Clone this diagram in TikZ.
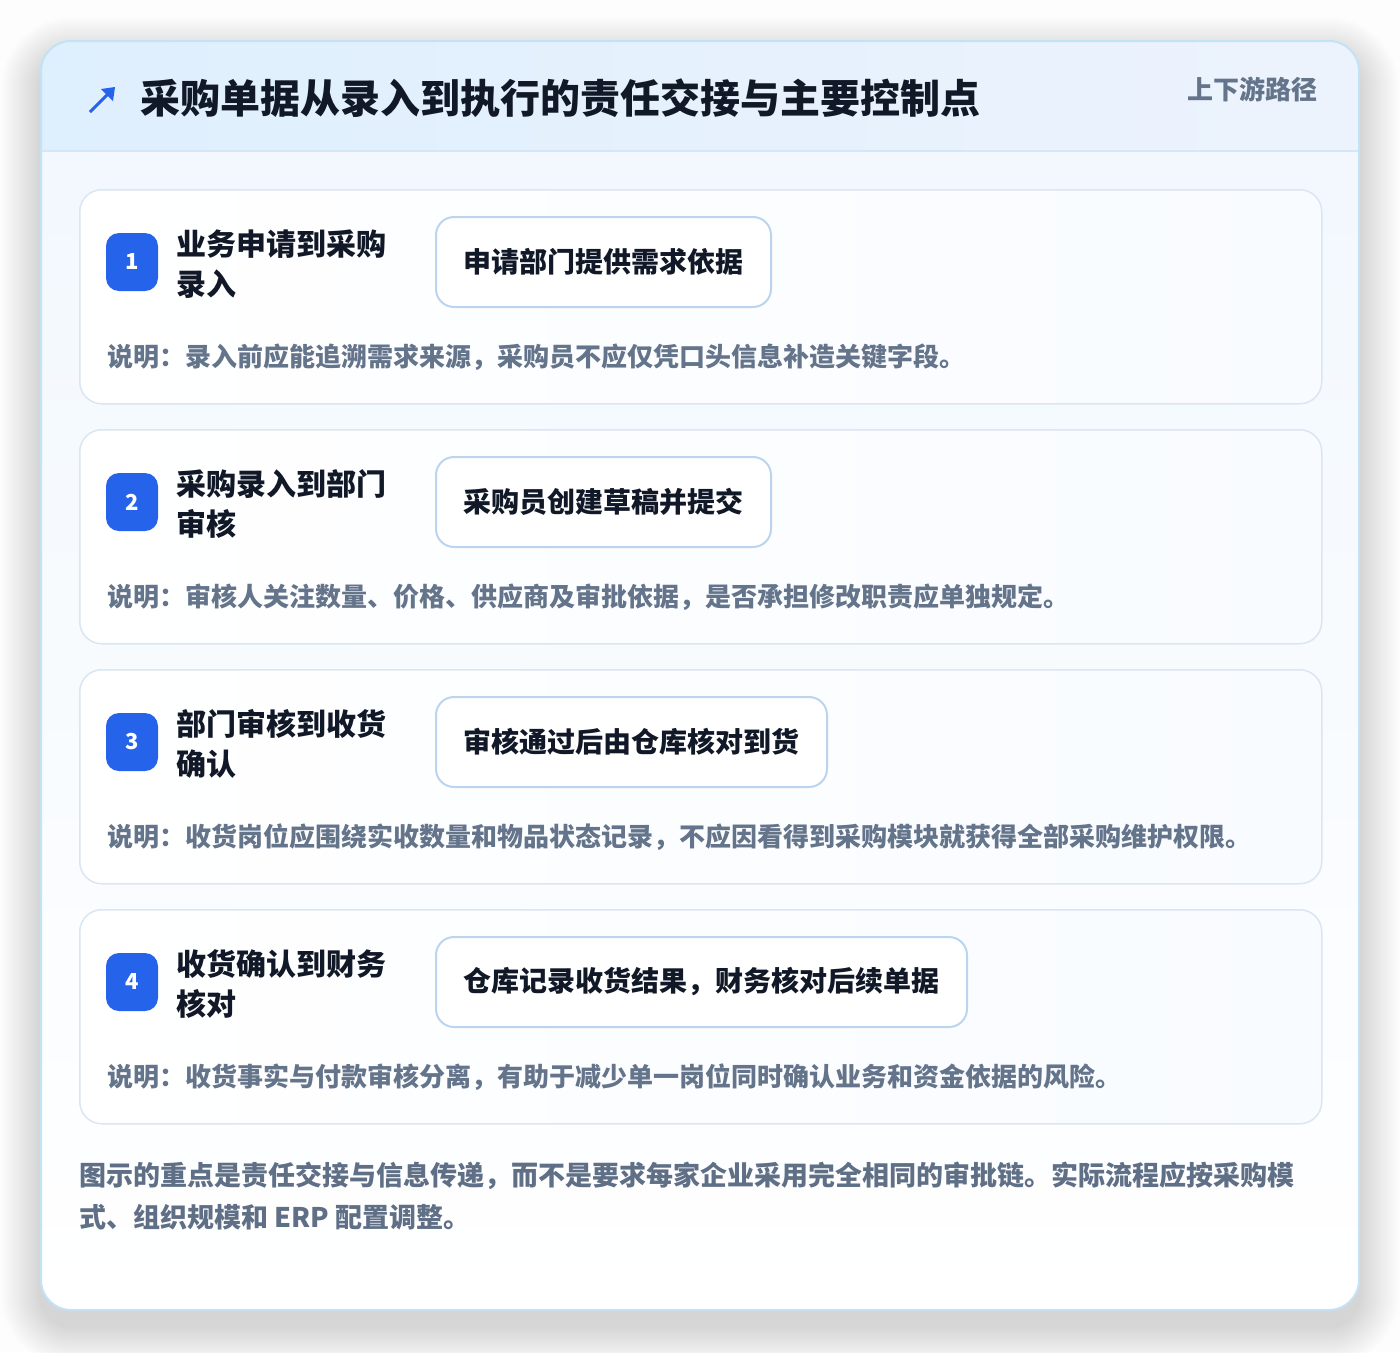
\documentclass[tikz,border=0pt]{standalone}
\usepackage{fontspec}
\usetikzlibrary{calc}
\newfontfamily\cjk{Noto Sans CJK SC}
\definecolor{pagebg}{HTML}{FDFDFD}
\definecolor{cardborder}{HTML}{C3E2F6}
\definecolor{headl}{HTML}{DEEFFD}
\definecolor{headr}{HTML}{EDF3FD}
\definecolor{headline}{HTML}{D3E7F8}
\definecolor{bodytop}{HTML}{F2F8FE}
\definecolor{stepborder}{HTML}{DAE6F2}
\definecolor{stepright}{HTML}{F8FBFF}
\definecolor{boxborder}{HTML}{BCD5EE}
\definecolor{accent}{HTML}{2563EB}
\definecolor{ink}{HTML}{111827}
\definecolor{muted}{HTML}{64748B}
\definecolor{footc}{HTML}{5F6F86}
\pgfdeclarelayer{shadowlayer}
\pgfsetlayers{shadowlayer,main}
\tikzset{
  stepcardbox/.style={draw=stepborder, line width=1.5pt, rounded corners=22pt,
    left color=white, right color=stepright, minimum width=1242pt, minimum height=214pt,
    anchor=north west, inner sep=0pt},
  badge/.style={fill=accent, rounded corners=13pt, minimum width=52pt, minimum height=58pt,
    inner sep=0pt, text=white, font=\cjk\bfseries\fontsize{22}{22}\selectfont},
  steptitle/.style={anchor=west, inner sep=0pt, align=left, text=ink,
    font=\cjk\bfseries\fontsize{30}{40}\selectfont},
  actionbox/.style={anchor=west, draw=boxborder, line width=2pt, rounded corners=18pt,
    fill=white, minimum height=90pt, inner xsep=27.5pt, inner ysep=0pt, text=ink,
    font=\cjk\bfseries\fontsize{28}{28}\selectfont},
  desctext/.style={anchor=west, inner sep=0pt, text=muted,
    font=\cjk\bfseries\fontsize{26}{26}\selectfont},
}
\newcommand\stepcard[6]{%
  \node[stepcardbox] (card#2) at (79,#1) {};
  \node[badge] (badge#2) at (132,{#1+73}) {#2};
  \node[steptitle] (stitle#2) at (176,{#1+75}) {#3\\#4};
  \node[actionbox] (action#2) at (435,{#1+73}) {#5};
  \begin{pgfonlayer}{shadowlayer}
    \foreach \j [evaluate=\j as \rr using 18+\j] in {1,...,12}
      \fill[black, opacity=0.007, rounded corners=\rr pt]
        ($(action#2.north west)+(-\j,{-\j+8})$) rectangle ($(action#2.south east)+(\j,{\j+8})$);
  \end{pgfonlayer}
  \node[desctext] (desc#2) at (107,{#1+168}) {#6};
}
\begin{document}
\begin{tikzpicture}[x=1pt,y=-1pt]
\useasboundingbox (0,0) rectangle (1400,1352);
\fill[pagebg] (0,0) rectangle (1400,1352);
\foreach \i [evaluate=\i as \rr using 30+\i] in {1,...,40}
  \fill[black, opacity=0.0025, rounded corners=\rr pt] (41-\i,{41-\i+16}) rectangle (1359+\i,{1310+\i+16});
\path[fill=white, rounded corners=30pt] (41,41) rectangle (1359,1310);
\begin{scope}
  \clip[rounded corners=30pt] (41,41) rectangle (1359,1310);
  \shade[top color=bodytop, bottom color=white] (41,151) rectangle (1359,1310);
  \shade[left color=headl, right color=headr] (41,41) rectangle (1359,151);
  \draw[headline, line width=1.5pt] (41,151) -- (1359,151);
\end{scope}
\draw[cardborder, line width=2pt, rounded corners=30pt] (41,41) rectangle (1359,1310);

\coordinate (iconA) at (90,112);
\coordinate (iconB) at (115,87);
\draw[accent, line width=3pt] (iconA) -- ($(iconB)+(-6,6)$);
\fill[accent] (iconB) -- ++(-14,2) -- ++(12,12) -- cycle;
\node[anchor=west, inner sep=0pt, text=ink, font=\cjk\bfseries\fontsize{40}{40}\selectfont] (title) at (140,98) {采购单据从录入到执行的责任交接与主要控制点};
\node[anchor=east, inner sep=0pt, text=muted, font=\cjk\bfseries\fontsize{26}{26}\selectfont] (tag) at (1318,89) {上下游路径};

\stepcard{189}{1}{业务申请到采购}{录入}{申请部门提供需求依据}{说明：录入前应能追溯需求来源，采购员不应仅凭口头信息补造关键字段。}
\stepcard{429}{2}{采购录入到部门}{审核}{采购员创建草稿并提交}{说明：审核人关注数量、价格、供应商及审批依据，是否承担修改职责应单独规定。}
\stepcard{669}{3}{部门审核到收货}{确认}{审核通过后由仓库核对到货}{说明：收货岗位应围绕实收数量和物品状态记录，不应因看得到采购模块就获得全部采购维护权限。}
\stepcard{909}{4}{收货确认到财务}{核对}{仓库记录收货结果，财务核对后续单据}{说明：收货事实与付款审核分离，有助于减少单一岗位同时确认业务和资金依据的风险。}

\node[anchor=west, inner sep=0pt, align=left, text=footc, font=\cjk\bfseries\fontsize{27}{42}\selectfont] (footer) at (79,1196)
  {图示的重点是责任交接与信息传递，而不是要求每家企业采用完全相同的审批链。实际流程应按采购模\\式、组织规模和 ERP 配置调整。};
\end{tikzpicture}
\end{document}
